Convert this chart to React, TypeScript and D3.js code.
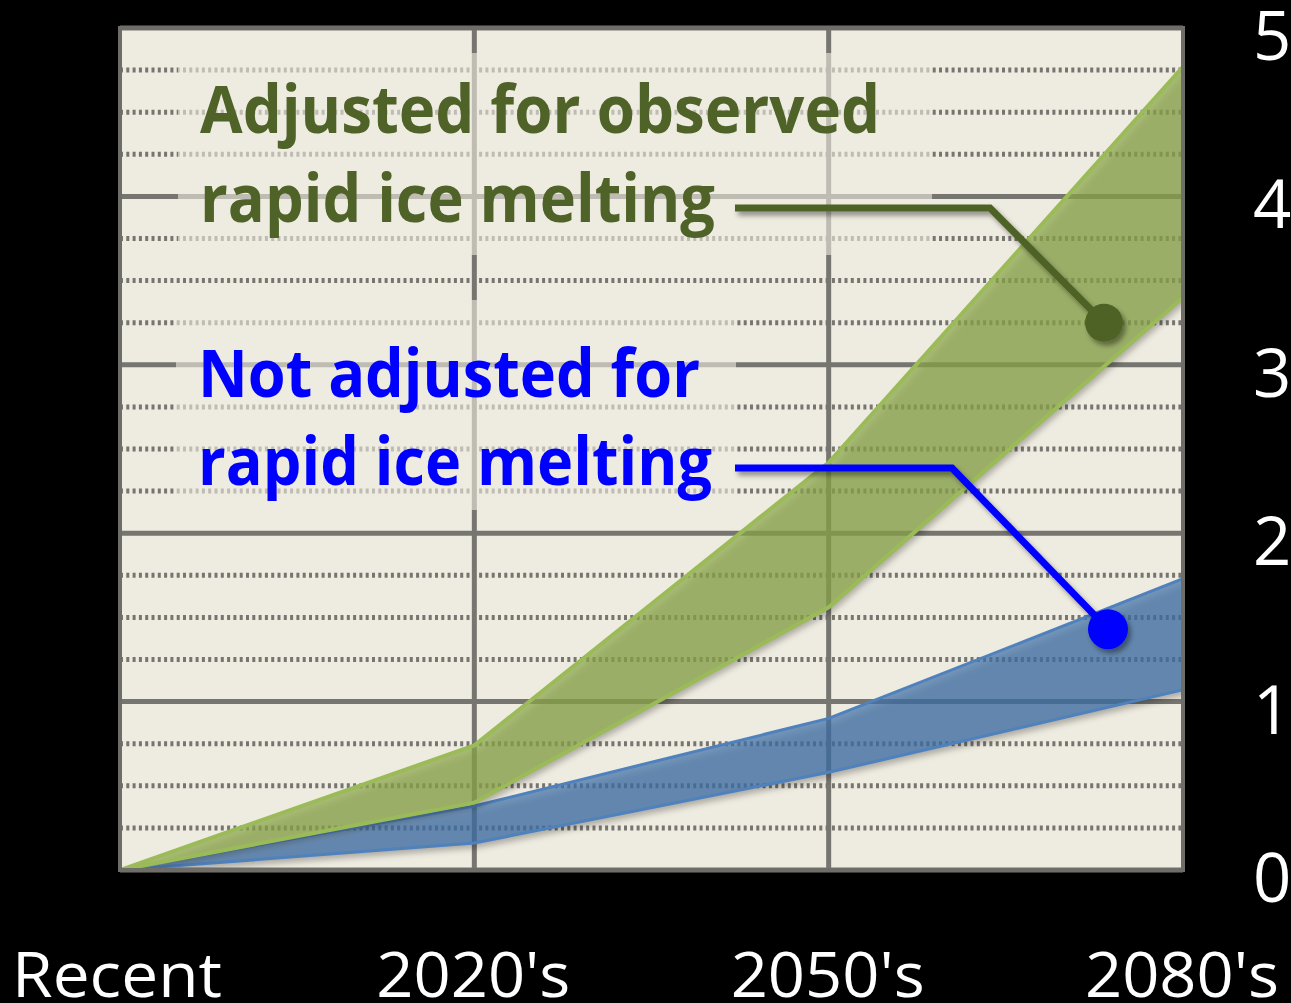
import React from "react";
import * as d3 from "d3";

const categories = ["Recent", "2020's", "2050's", "2080's"];
const adjustedLow = [0, 0.4, 1.56, 3.4];
const adjustedHigh = [0, 0.74, 2.42, 4.77];
const notAdjustedLow = [0, 0.16, 0.58, 1.07];
const notAdjustedHigh = [0, 0.38, 0.9, 1.73];
const majorTicks = [0, 1, 2, 3, 4, 5];
const minorTicks = d3.range(0.25, 5, 0.25).filter((v) => Math.abs(v - Math.round(v)) > 1e-6);

const W = 1291;
const H = 1003;
const left = 120;
const right = 1183;
const top = 28;
const bottom = 870;

const BG = "#eeebe0";
const GRID = "#767570";

export default function App() {
  const x = d3.scalePoint<string>().domain(categories).range([left, right]);
  const y = d3.scaleLinear().domain([0, 5]).range([bottom, top]);

  const band = (lo: number[], hi: number[]) =>
    d3
      .area<number>()
      .x((_, i) => x(categories[i]) as number)
      .y0((_, i) => y(lo[i]))
      .y1((_, i) => y(hi[i]))(lo.map((_, i) => i)) as string;
  const edge = (vals: number[]) =>
    d3
      .line<number>()
      .x((_, i) => x(categories[i]) as number)
      .y((v) => y(v))(vals) as string;

  const greenDotY = y(3.25);
  const blueDotY = y(1.43);

  return (
    <svg
      width={W}
      height={H}
      style={{ position: "absolute", left: 0, top: 0, background: "#000" }}
    >
      <defs>
        <filter id="shadow" x="-10%" y="-10%" width="130%" height="130%">
          <feDropShadow dx="3" dy="5" stdDeviation="3" floodColor="#000" floodOpacity="0.4" />
        </filter>
        <filter id="lshadow" x="-10%" y="-30%" width="130%" height="160%">
          <feDropShadow dx="3" dy="4" stdDeviation="2.5" floodColor="#000" floodOpacity="0.4" />
        </filter>
        <clipPath id="plot">
          <rect x={left} y={top} width={right - left} height={bottom - top} />
        </clipPath>
      </defs>
      <rect x={0} y={0} width={W} height={H} fill="#000" />
      <rect x={left} y={top} width={right - left} height={bottom - top} fill={BG} />

      {/* minor dotted gridlines */}
      {minorTicks.map((v) => (
        <line
          key={"m" + v}
          x1={left}
          x2={right}
          y1={y(v)}
          y2={y(v)}
          stroke={GRID}
          strokeWidth={5}
          strokeDasharray="3 3.3"
        />
      ))}
      {/* major gridlines */}
      {majorTicks.map((v) => (
        <line key={"M" + v} x1={left} x2={right} y1={y(v)} y2={y(v)} stroke={GRID} strokeWidth={5} />
      ))}
      {categories.slice(1, 3).map((c) => (
        <line key={c} x1={x(c)} x2={x(c)} y1={top} y2={bottom} stroke={GRID} strokeWidth={5} />
      ))}

      {/* semi-transparent text boxes */}
      <rect x={178} y={53} width={754} height={202} fill={BG} opacity={0.6} />
      <rect x={176} y={300} width={560} height={210} fill={BG} opacity={0.6} />

      <g clipPath="url(#plot)">
        {/* blue band */}
        <g filter="url(#shadow)">
          <path d={band(notAdjustedLow, notAdjustedHigh)} fill="#3f6fa8" fillOpacity={0.7} />
        </g>
        <path d={edge(notAdjustedLow)} fill="none" stroke="#4f81bd" strokeWidth={3} />
        <path d={edge(notAdjustedHigh)} fill="none" stroke="#4f81bd" strokeWidth={3} />
        {/* green band */}
        <g filter="url(#shadow)">
          <path d={band(adjustedLow, adjustedHigh)} fill="#8aa54a" fillOpacity={0.7} />
        </g>
        <path d={edge(adjustedLow)} fill="none" stroke="#9bbb59" strokeWidth={4} />
        <path d={edge(adjustedHigh)} fill="none" stroke="#9bbb59" strokeWidth={4} />
      </g>

      {/* plot border */}
      <rect
        x={left}
        y={top}
        width={right - left}
        height={bottom - top}
        fill="none"
        stroke="#6e6d68"
        strokeWidth={4}
      />

      {/* annotations */}
      <g fontFamily="'Open Sans', sans-serif" fontWeight={700} fontSize={67}>
        <text x={200} y={133} fill="#4f6228" textLength={680} lengthAdjust="spacingAndGlyphs">
          Adjusted for observed
        </text>
        <text x={200} y={222} fill="#4f6228" textLength={515} lengthAdjust="spacingAndGlyphs">
          rapid ice melting
        </text>
        <text x={198} y={397} fill="#0000ff" textLength={502} lengthAdjust="spacingAndGlyphs">
          Not adjusted for
        </text>
        <text x={198} y={485} fill="#0000ff" textLength={514} lengthAdjust="spacingAndGlyphs">
          rapid ice melting
        </text>
      </g>

      <g filter="url(#lshadow)">
        <polyline
          points={`735,208 990,208 ${1104},${greenDotY}`}
          fill="none"
          stroke="#4f6228"
          strokeWidth={7}
        />
        <circle cx={1104} cy={greenDotY} r={19} fill="#4f6228" />
        <polyline
          points={`735,468 952,468 ${1108},${blueDotY}`}
          fill="none"
          stroke="#0000ff"
          strokeWidth={7}
        />
        <circle cx={1108} cy={blueDotY} r={20} fill="#0000ff" />
      </g>

      {/* y axis labels */}
      <g fontFamily="'Open Sans', sans-serif" fontSize={67} fill="#fff">
        {majorTicks.map((v) => (
          <text key={"y" + v} x={1253} y={y(v) + 32}>
            {v}
          </text>
        ))}
      </g>
      {/* x axis labels */}
      <g fontFamily="'Open Sans', sans-serif" fontSize={63} fill="#fff" textAnchor="middle">
        {categories.map((c, i) => (
          <text
            key={c}
            x={(x(c) as number) + (i === 0 ? -3 : -1)}
            y={997}
            textLength={i === 0 ? 210 : 194}
            lengthAdjust="spacingAndGlyphs"
          >
            {c}
          </text>
        ))}
      </g>
    </svg>
  );
}
